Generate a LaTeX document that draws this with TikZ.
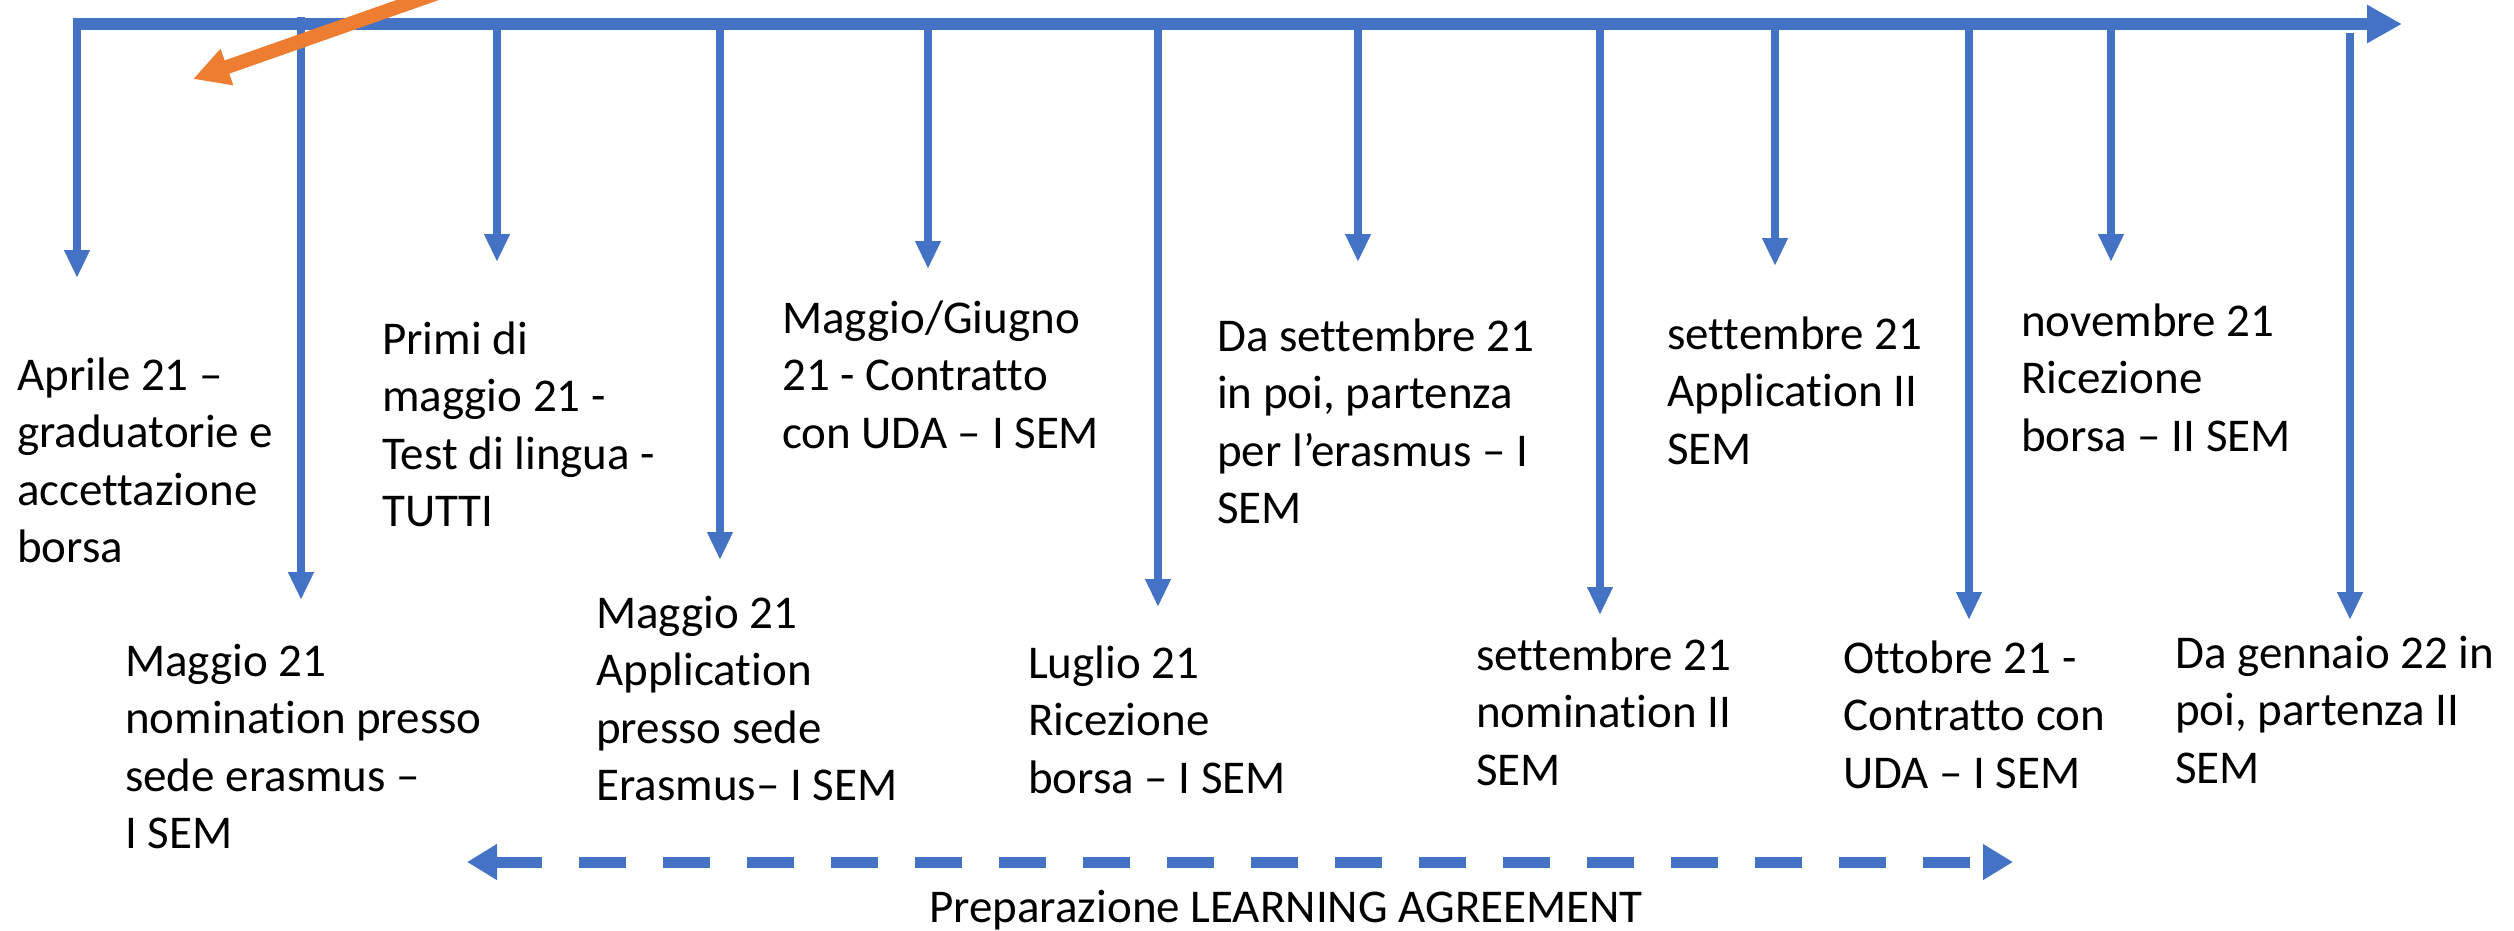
\documentclass[tikz,border=0pt]{standalone}
\usepackage{fontspec}
\setmainfont{Carlito}[Ligatures=NoCommon]
\usetikzlibrary{arrows.meta}
\definecolor{tlblue}{HTML}{4472C4}
\definecolor{tlorange}{HTML}{ED7D31}
\begin{document}
\begin{tikzpicture}[x=1pt,y=-1pt,
  tick/.style={draw=tlblue, line width=8pt, -{Triangle[length=28pt,width=24pt]}},
  lbl/.style={anchor=base west, inner sep=0pt, font=\fontsize{47}{57.5}\selectfont},
  mainline/.style={draw=tlblue, line width=12pt, -{Triangle[length=35pt,width=36pt]}},
  dashedarrow/.style={draw=tlblue, line width=11pt, dash pattern=on 47pt off 37pt,
     {Triangle[length=30pt,width=34pt]}-{Triangle[length=30pt,width=34pt]}},
  orangearrow/.style={draw=tlorange, line width=14pt, -{Triangle[length=36pt,width=36pt]}}
]
\useasboundingbox (0,0) rectangle (2514,930);
\clip (0,0) rectangle (2514,930);

% main timeline
\coordinate (t0) at (73,24);
\coordinate (t1) at (2402,24);
\draw[mainline] (t0) -- (t1);

% vertical ticks
\coordinate (a1s) at (77,24);    \coordinate (a1e) at (77,278);
\coordinate (a2s) at (301,17);   \coordinate (a2e) at (301,600);
\coordinate (a3s) at (497,24);   \coordinate (a3e) at (497,262);
\coordinate (a4s) at (720,24);   \coordinate (a4e) at (720,560);
\coordinate (a5s) at (928,24);   \coordinate (a5e) at (928,269);
\coordinate (a6s) at (1158,24);  \coordinate (a6e) at (1158,607);
\coordinate (a7s) at (1358,24);  \coordinate (a7e) at (1358,262);
\coordinate (a8s) at (1600,24);  \coordinate (a8e) at (1600,615);
\coordinate (a9s) at (1775,24);  \coordinate (a9e) at (1775,266);
\coordinate (a10s) at (1969,24); \coordinate (a10e) at (1969,620);
\coordinate (a11s) at (2111,24); \coordinate (a11e) at (2111,262);
\coordinate (a12s) at (2350,33); \coordinate (a12e) at (2350,620);
\foreach \i in {1,...,12} {\draw[tick] (a\i s) -- (a\i e);}

% labels
\node[lbl] (l1) at (17,390) {\begin{tabular}[t]{@{}l@{}}Aprile 21 –\\graduatorie e\\accettazione\\borsa\end{tabular}};
\node[lbl] (l2) at (125,676) {\begin{tabular}[t]{@{}l@{}}Maggio 21\\nomination presso\\sede erasmus –\\I SEM\end{tabular}};
\node[lbl] (l3) at (382,354) {\begin{tabular}[t]{@{}l@{}}Primi di\\maggio 21 -\\Test di lingua -\\TUTTI\end{tabular}};
\node[lbl] (l4) at (596,628) {\begin{tabular}[t]{@{}l@{}}Maggio 21\\Application\\presso sede\\Erasmus– I SEM\end{tabular}};
\node[lbl] (l5) at (782,333) {\begin{tabular}[t]{@{}l@{}}Maggio/Giugno\\21 - Contratto\\con UDA – I SEM\end{tabular}};
\node[lbl] (l6) at (1028,678) {\begin{tabular}[t]{@{}l@{}}Luglio 21\\Ricezione\\borsa – I SEM\end{tabular}};
\node[lbl] (l7) at (1217,351) {\begin{tabular}[t]{@{}l@{}}Da settembre 21\\in poi, partenza\\per l’erasmus – I\\SEM\end{tabular}};
\node[lbl] (l8) at (1476,670) {\begin{tabular}[t]{@{}l@{}}settembre 21\\nomination II\\SEM\end{tabular}};
\node[lbl] (l9) at (1667,349) {\begin{tabular}[t]{@{}l@{}}settembre 21\\Application II\\SEM\end{tabular}};
\node[lbl] (l10) at (1843,673) {\begin{tabular}[t]{@{}l@{}}Ottobre 21 -\\Contratto con\\UDA – I SEM\end{tabular}};
\node[lbl] (l11) at (2021,336) {\begin{tabular}[t]{@{}l@{}}novembre 21\\Ricezione\\borsa – II SEM\end{tabular}};
\node[lbl] (l12) at (2175,668) {\begin{tabular}[t]{@{}l@{}}Da gennaio 22 in\\poi, partenza II\\SEM\end{tabular}};

% learning agreement span
\coordinate (d0) at (467,862);
\coordinate (d1) at (2013,862);
\draw[dashedarrow] (d0) -- (d1);
\node[anchor=base, inner sep=0pt, font=\fontsize{47}{57.5}\selectfont] (la) at (1286,922) {Preparazione LEARNING AGREEMENT};

% orange arrow
\coordinate (o0) at (503,-30);
\coordinate (o1) at (193,79);
\draw[orangearrow] (o0) -- (o1);
\end{tikzpicture}
\end{document}
